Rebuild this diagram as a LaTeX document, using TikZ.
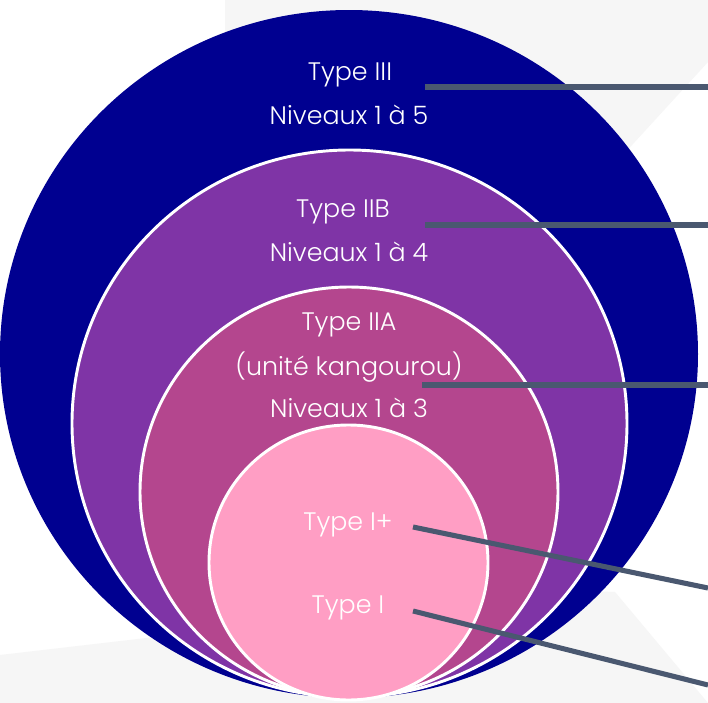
\documentclass[tikz,border=0pt]{standalone}
\usepackage{fontspec}
\IfFontExistsTF{Poppins Light}{\setmainfont{Poppins Light}}{\setmainfont{Poppins}}
\definecolor{bgGray}{HTML}{F6F6F6}
\definecolor{ringNavy}{HTML}{000090}
\definecolor{ringPurple}{HTML}{7F34A6}
\definecolor{ringMagenta}{HTML}{B4468E}
\definecolor{ringPink}{HTML}{FF9EC4}
\definecolor{leader}{HTML}{4A5870}
\tikzset{
  ring/.style={draw=white, line width=2.2pt},
  lbl/.style={text=white, inner sep=0pt, font=\fontsize{19}{22}\selectfont},
  leaderline/.style={draw=leader, line width=3.8pt, line cap=butt},
}
\begin{document}
\begin{tikzpicture}[x=0.75pt, y=-0.75pt]
  \useasboundingbox (0,0) rectangle (708,703);
  % soft background panels
  \fill[white] (0,0) rectangle (708,703);
  \fill[bgGray] (225,0) -- (708,0) -- (708,62) -- (600,180) -- (225,180) -- cycle;
  \fill[bgGray] (0,655) -- (560,590) -- (615,592) -- (708,703) -- (0,703) -- cycle;

  % nested rings
  \fill[ringNavy] (349,354) ellipse [x radius=349, y radius=344];
  \filldraw[ring, fill=ringPurple] (349.5,423.5) ellipse [x radius=277.5, y radius=273.5];
  \filldraw[ring, fill=ringMagenta] (349,492) ellipse [x radius=209, y radius=205];
  \filldraw[ring, fill=ringPink] (348.5,562.5) ellipse [x radius=139.5, y radius=137.5];

  % labels
  \node[lbl] (t3)  at (350,75)  {Type III};
  \node[lbl] (n3)  at (349,115) {Niveaux 1 à 5};
  \node[lbl] (t2b) at (343,212) {Type IIB};
  \node[lbl] (n2b) at (349,252) {Niveaux 1 à 4};
  \node[lbl] (t2a) at (349,325) {Type IIA};
  \node[lbl] (u2a) at (349,367) {(unité kangourou)};
  \node[lbl] (n2a) at (349,408) {Niveaux 1 à 3};
  \node[lbl] (t1p) at (348,525) {Type I+};
  \node[lbl] (t1)  at (348,608) {Type I};

  % leader line anchors
  \coordinate (a3)  at (425,87);   \coordinate (b3)  at (708,87);
  \coordinate (a2b) at (425,225);  \coordinate (b2b) at (708,225);
  \coordinate (a2a) at (422,385);  \coordinate (b2a) at (708,385);
  \coordinate (a1p) at (413,527);  \coordinate (b1p) at (708,588);
  \coordinate (a1)  at (413,611);  \coordinate (b1)  at (708,685);

  \draw[leaderline] (a3) -- (b3);
  \draw[leaderline] (a2b) -- (b2b);
  \draw[leaderline] (a2a) -- (b2a);
  \draw[leaderline] (a1p) -- (b1p);
  \draw[leaderline] (a1) -- (b1);
\end{tikzpicture}
\end{document}
